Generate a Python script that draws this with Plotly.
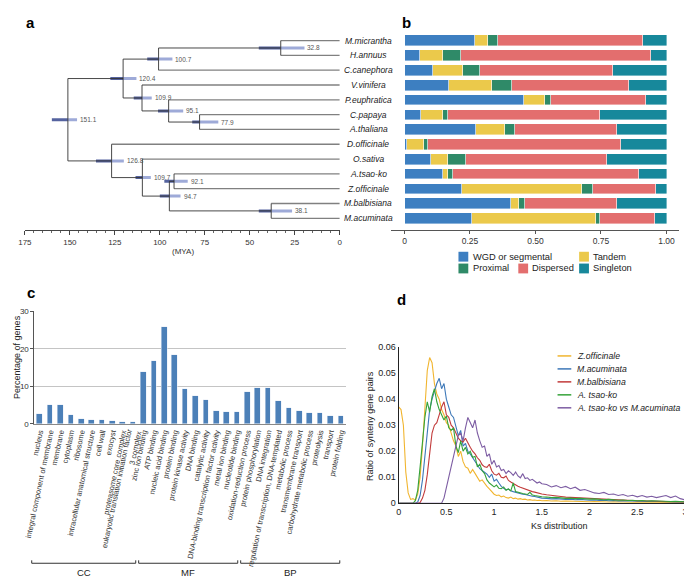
## Multi-panel figure: dated tree, duplication types, GO bars, Ks distribution

## Imports
import plotly.graph_objects as go


# the page body has an 8px margin, so the figure is drawn 8px smaller and
# reference pixel positions are shifted by that offset
OFF = 8
W, H = 692 - OFF, 583 - OFF
FONT = "Arial, Liberation Sans, sans-serif"


def px(x):
    return (x - OFF) / W


def py(y):
    return 1 - (y - OFF) / H


## Panel a: dated tree
tips = ["M.micrantha", "H.annuus", "C.canephora", "V.vinifera", "P.euphratica",
        "C.papaya", "A.thaliana", "D.officinale", "O.sativa", "A.tsao-ko",
        "Z.officinale", "M.balbisiana", "M.acuminata"]

tree = ("n151", [
    ("n120", [
        ("n100", [("n32", ["M.micrantha", "H.annuus"]), "C.canephora"]),
        ("n109a", ["V.vinifera",
                   ("n95", ["P.euphratica", ("n77", ["C.papaya", "A.thaliana"])])]),
    ]),
    ("n126", [
        "D.officinale",
        ("n109b", ["O.sativa",
                   ("n94", [("n92", ["A.tsao-ko", "Z.officinale"]),
                            ("n38", ["M.balbisiana", "M.acuminata"])])]),
    ]),
])

node_age = {"n151": 151.1, "n120": 120.4, "n100": 100.7, "n32": 32.8, "n109a": 109.9,
            "n95": 95.1, "n77": 77.9, "n126": 126.8, "n109b": 109.7, "n94": 94.7,
            "n92": 92.1, "n38": 38.1}
hpd_old = {"n151": 160.0, "n120": 127.5, "n100": 107.0, "n32": 45.0, "n109a": 114.5,
           "n95": 101.0, "n77": 82.0, "n126": 135.5, "n109b": 113.5, "n94": 100.0,
           "n92": 97.5, "n38": 45.0}
hpd_young = {"n151": 146.0, "n120": 113.0, "n100": 93.0, "n32": 19.6, "n109a": 104.5,
             "n95": 87.0, "n77": 67.5, "n126": 120.0, "n109b": 105.0, "n94": 88.5,
             "n92": 84.5, "n38": 26.5}

## Panel b: gene duplication types (fractions)
dup_types = ["WGD or segmental", "Tandem", "Proximal", "Dispersed", "Singleton"]
dup_colors = ["#3d7fc1", "#ebc94b", "#2f8a68", "#e36e6e", "#17889b"]
wgd = [0.27, 0.06, 0.108, 0.168, 0.455, 0.062, 0.273, 0.007, 0.102, 0.148, 0.218, 0.404, 0.256]
tandem = [0.046, 0.088, 0.114, 0.165, 0.079, 0.086, 0.11, 0.065, 0.063, 0.018, 0.457, 0.032, 0.475]
proximal = [0.041, 0.066, 0.067, 0.075, 0.023, 0.017, 0.038, 0.018, 0.068, 0.019, 0.042, 0.025, 0.015]
dispersed = [0.552, 0.727, 0.505, 0.447, 0.364, 0.582, 0.389, 0.735, 0.541, 0.71, 0.243, 0.349, 0.209]
singleton = [0.091, 0.059, 0.206, 0.145, 0.079, 0.253, 0.19, 0.175, 0.226, 0.105, 0.04, 0.19, 0.045]

## Panel c: GO terms
go_terms = ["nucleus", "integral component of membrane", "membrane", "cytoplasm", "ribosome",
            "intracellular anatomical structure", "cell wall", "exocyst",
            "proteasome core complex", "eukaryotic translation initiation factor<br>3 complex",
            "zinc ion binding", "ATP binding", "nucleic acid binding", "protein binding",
            "protein kinase activity", "DNA binding", "catalytic activity",
            "DNA-binding transcription factor activity", "metal ion binding",
            "nucleotide binding", "oxidation-reduction process", "protein phosphorylation",
            "DNA integration", "regulation of transcription, DNA-templated",
            "metabolic process", "transmembrane transport", "carbohydrate metabolic process",
            "proteolysis", "transport", "protein folding"]
go_pct = [2.56, 5.0, 4.9, 2.2, 1.2, 1.06, 0.97, 0.6, 0.44, 0.35,
          13.7, 16.7, 25.9, 18.4, 9.27, 7.3, 6.3, 3.35, 3.1, 3.0,
          8.3, 9.44, 9.36, 5.9, 4.06, 3.35, 2.8, 2.8, 2.1, 1.94]
go_groups = ["CC", "MF", "BP"]

## Panel d: Ks distributions
ks = [0, 0.025, 0.05, 0.075, 0.1, 0.125, 0.15, 0.175, 0.2, 0.225, 0.25, 0.275, 0.3, 0.325,
      0.35, 0.375, 0.4, 0.425, 0.45, 0.475, 0.5, 0.525, 0.55, 0.575, 0.6, 0.625, 0.65, 0.675,
      0.7, 0.725, 0.75, 0.775, 0.8, 0.825, 0.85, 0.875, 0.9, 0.925, 0.95, 0.975, 1.0, 1.025,
      1.05, 1.075, 1.1, 1.125, 1.15, 1.175, 1.2, 1.225, 1.25, 1.275, 1.3, 1.325, 1.35, 1.375,
      1.4, 1.425, 1.45, 1.475, 1.5, 1.55, 1.6, 1.65, 1.7, 1.75, 1.8, 1.85, 1.9, 1.95, 2.0,
      2.05, 2.1, 2.15, 2.2, 2.25, 2.3, 2.35, 2.4, 2.45, 2.5, 2.55, 2.6, 2.65, 2.7, 2.75, 2.8,
      2.85, 2.9, 2.95, 3.0]

ks_zof = [0.037, 0.036, 0.030, 0.012, 0.004, 0.0015, 0.0018, 0.0012, 0.0035, 0.010, 0.022,
          0.038, 0.051, 0.056, 0.054, 0.046, 0.042, 0.040, 0.036, 0.034, 0.031, 0.030, 0.027,
          0.024, 0.022, 0.018, 0.020, 0.016, 0.014, 0.0135, 0.0115, 0.013, 0.0115, 0.010,
          0.0085, 0.009, 0.0075, 0.0065, 0.0055, 0.0045, 0.0035, 0.003, 0.0032, 0.0025,
          0.0028, 0.0022, 0.002, 0.0024, 0.0018, 0.002, 0.0016, 0.0018, 0.0015, 0.0016,
          0.0013, 0.0014, 0.0012, 0.0013, 0.0011, 0.0012, 0.001,
          0.0011, 0.0009, 0.001, 0.0008, 0.0009, 0.0008, 0.0007, 0.0008, 0.0007, 0.0006,
          0.0007, 0.0006, 0.0007, 0.0005, 0.0006, 0.0005, 0.0006, 0.0005, 0.0004, 0.0005,
          0.0004, 0.0005, 0.0004, 0.0004, 0.0003, 0.0004, 0.0003, 0.0004, 0.0003, 0.0003]
ks_mac = [0, 0, 0, 0, 0, 0, 0, 0, 0.0005, 0.003, 0.009, 0.018, 0.029, 0.036, 0.040, 0.043,
          0.046, 0.048, 0.044, 0.046, 0.040, 0.037, 0.034, 0.033, 0.029, 0.026, 0.028, 0.022,
          0.023, 0.020, 0.019, 0.0175, 0.016, 0.0148, 0.0133, 0.0126, 0.012, 0.0112, 0.010,
          0.0112, 0.0085, 0.0092, 0.0078, 0.0065, 0.0058, 0.0052, 0.0055, 0.0048, 0.0045,
          0.0042, 0.0040, 0.0037, 0.0035, 0.0034, 0.0031, 0.003, 0.0027, 0.0026, 0.0024,
          0.0022, 0.002,
          0.0019, 0.0017, 0.0018, 0.0016, 0.0015, 0.0016, 0.0014, 0.0015, 0.0013, 0.0012,
          0.0013, 0.0011, 0.0012, 0.001, 0.0011, 0.0009, 0.001, 0.0009, 0.0008, 0.0009,
          0.0008, 0.0007, 0.0008, 0.0007, 0.0006, 0.0007, 0.0006, 0.0005, 0.0006, 0.0005]
ks_mba = [0, 0, 0, 0, 0, 0, 0, 0, 0, 0.0003, 0.002, 0.005, 0.011, 0.019, 0.027, 0.030, 0.031,
          0.034, 0.037, 0.039, 0.034, 0.033, 0.030, 0.029, 0.027, 0.025, 0.024, 0.0235,
          0.025, 0.023, 0.0215, 0.020, 0.019, 0.0175, 0.0165, 0.0148, 0.014, 0.0138, 0.015,
          0.0125, 0.0112, 0.0108, 0.0115, 0.010, 0.0098, 0.0105, 0.0088, 0.0082, 0.0076,
          0.007, 0.0066, 0.0062, 0.0058, 0.0055, 0.005, 0.0047, 0.0045, 0.0043, 0.004,
          0.0038, 0.0036,
          0.0033, 0.0030, 0.0028, 0.0026, 0.0024, 0.0023, 0.0022, 0.002, 0.0019, 0.0018,
          0.0017, 0.0016, 0.0015, 0.0014, 0.0013, 0.0013, 0.0012, 0.0011, 0.0011, 0.001,
          0.001, 0.0009, 0.0009, 0.0008, 0.0008, 0.0007, 0.0007, 0.0007, 0.0006, 0.0006]
ks_ats = [0, 0, 0, 0, 0, 0, 0, 0.001, 0.005, 0.014, 0.024, 0.033, 0.039, 0.035, 0.041, 0.044,
          0.039, 0.036, 0.034, 0.032, 0.0335, 0.029, 0.028, 0.029, 0.022, 0.0195, 0.024,
          0.020, 0.0215, 0.019, 0.020, 0.0177, 0.018, 0.014, 0.015, 0.0125, 0.0114, 0.009,
          0.0078, 0.007, 0.0063, 0.007, 0.0058, 0.0056, 0.0063, 0.005, 0.0055, 0.0048,
          0.0078, 0.0045, 0.0042, 0.004, 0.0038, 0.0036, 0.0034, 0.0042, 0.0032, 0.003,
          0.0028, 0.0026, 0.0025,
          0.0024, 0.0022, 0.0023, 0.0021, 0.0019, 0.002, 0.0018, 0.0019, 0.0017, 0.0016,
          0.0017, 0.0015, 0.0014, 0.0015, 0.0013, 0.0012, 0.0013, 0.0011, 0.0012, 0.001,
          0.0011, 0.0009, 0.001, 0.0009, 0.0008, 0.0009, 0.0007, 0.0008, 0.0007, 0.0006]
ks_ats_mac = [0, 0, 0, 0, 0, 0, 0, 0, 0, 0, 0, 0, 0, 0, 0, 0, 0, 0, 0, 0.002, 0.006, 0.0095,
              0.013, 0.018, 0.022, 0.026, 0.027, 0.024, 0.029, 0.033, 0.031, 0.029, 0.032,
              0.027, 0.024, 0.0215, 0.022, 0.018, 0.019, 0.015, 0.0165, 0.014, 0.0145,
              0.0126, 0.013, 0.0114, 0.0125, 0.0118, 0.0107, 0.012, 0.0105, 0.0098, 0.0114,
              0.0095, 0.0098, 0.0088, 0.0092, 0.0085, 0.0078, 0.0082, 0.0075,
              0.0072, 0.0063, 0.0068, 0.006, 0.0065, 0.0056, 0.0062, 0.005, 0.0053, 0.0046,
              0.0040, 0.0038, 0.0042, 0.0034, 0.0036, 0.0030, 0.0034, 0.0027, 0.0031, 0.0025,
              0.003, 0.0024, 0.0027, 0.0022, 0.0026, 0.003, 0.0022, 0.0028, 0.0018, 0.0013]

ks_series = [("Z.officinale", ks_zof, "#f1b52f"),
             ("M.acuminata", ks_mac, "#3d78b8"),
             ("M.balbisiana", ks_mba, "#c23b3b"),
             ("A. tsao-ko", ks_ats, "#35a33a"),
             ("A. tsao-ko vs M.acuminata", ks_ats_mac, "#7d5da3")]


#### Tree coordinates from topology and node ages
int_x, int_y, tip_x, tip_y = [], [], [], []
node_y = {}


def walk(node):
    if isinstance(node, str):
        return tips.index(node), 0.0
    name, kids = node
    age = node_age[name]
    ys = []
    for k in kids:
        yk, ak = walk(k)
        ys.append(yk)
        if isinstance(k, str):
            tip_x.extend([age, ak, None]); tip_y.extend([yk, yk, None])
        else:
            int_x.extend([age, ak, None]); int_y.extend([yk, yk, None])
    int_x.extend([age, age, None]); int_y.extend([ys[0], ys[-1], None])
    node_y[name] = (ys[0] + ys[-1]) / 2
    return node_y[name], age


walk(tree)

fig = go.Figure()

for n in node_age:
    fig.add_trace(go.Scatter(x=[hpd_old[n], node_age[n]], y=[node_y[n], node_y[n]],
                             mode="lines", line=dict(color="#55639f", width=3),
                             xaxis="x", yaxis="y", hoverinfo="skip"))
    fig.add_trace(go.Scatter(x=[node_age[n], hpd_young[n]], y=[node_y[n], node_y[n]],
                             mode="lines", line=dict(color="#9eaad8", width=3),
                             xaxis="x", yaxis="y", hoverinfo="skip"))

fig.add_trace(go.Scatter(x=tip_x, y=tip_y, mode="lines",
                         line=dict(color="#808080", width=1.3), xaxis="x", yaxis="y"))
fig.add_trace(go.Scatter(x=int_x, y=int_y, mode="lines",
                         line=dict(color="#333333", width=0.9), xaxis="x", yaxis="y"))

#### Panel b bars
for name, vals, col in zip(dup_types, [wgd, tandem, proximal, dispersed, singleton], dup_colors):
    fig.add_trace(go.Bar(x=vals, y=tips, orientation="h", name=name, width=0.72,
                         marker=dict(color=col, line=dict(color="white", width=0.4)),
                         xaxis="x2", yaxis="y2"))

#### Panel c bars
fig.add_trace(go.Bar(x=go_terms, y=go_pct, width=0.54, marker=dict(color="#4c80b8"),
                     xaxis="x3", yaxis="y3"))

#### Panel d lines
for name, vals, col in ks_series:
    fig.add_trace(go.Scatter(x=ks, y=vals, mode="lines", name=name,
                             line=dict(color=col, width=1.1), xaxis="x4", yaxis="y4"))


#### Annotations and shapes
ann = []
shapes = []


def label(text, x, y, size=9, xanchor="center", angle=0, color="#222"):
    # text placed at a reference pixel position
    ann.append(dict(text=text, x=px(x), y=py(y), xref="paper", yref="paper",
                    xanchor=xanchor, yanchor="middle", textangle=angle, borderpad=0,
                    showarrow=False, font=dict(size=size, color=color)))


for lab, x, y in [("a", 21, 18), ("b", 404, 18), ("c", 21, 292), ("d", 399, 300)]:
    label("<b>%s</b>" % lab, x, y, size=15, color="black")

for i, t in enumerate(tips):
    ann.append(dict(text="<i>%s</i>" % t, x=px(365), y=i, xref="paper", yref="y",
                    xanchor="center", yanchor="middle", showarrow=False,
                    font=dict(size=8.5, color="#222")))

for n in node_age:
    ann.append(dict(text="%.1f" % node_age[n], x=hpd_young[n], y=node_y[n], xref="x", yref="y",
                    xanchor="left", yanchor="middle", xshift=1, showarrow=False,
                    font=dict(size=6.5, color="#555")))

label("(MYA)", 176, 251, size=8, color="#333")

# legend of panel b
leg_b = [(0, 457, 256, 471), (1, 580, 256, 593), (2, 457, 268, 471),
         (3, 518, 268, 531), (4, 580, 268, 593)]
for i, sx, sy, tx in leg_b:
    shapes.append(dict(type="rect", xref="paper", yref="paper", x0=px(sx), x1=px(sx + 10),
                       y0=py(sy - 5), y1=py(sy + 5), fillcolor=dup_colors[i], line=dict(width=0)))
    label(dup_types[i], tx, sy, size=9.3, xanchor="left")

# group brackets of panel c
for g, x0, x1 in zip(go_groups, [22, 131, 235], [128, 232, 336]):
    shapes.append(dict(type="path", xref="paper", yref="paper",
                       path="M %f %f L %f %f L %f %f L %f %f" % (
                           px(x0), py(565), px(x0), py(568), px(x1), py(568), px(x1), py(565)),
                       line=dict(color="#333", width=1)))
    label(g, (x0 + x1) / 2, 577, size=9.5)

label("Percentage of genes", 7, 358, angle=-90)

# legend of panel d
for i, (name, vals, col) in enumerate(ks_series):
    yy = 357 + i * 13.2
    shapes.append(dict(type="line", xref="paper", yref="paper", x0=px(558), x1=px(572),
                       y0=py(yy), y1=py(yy), line=dict(color=col, width=1.5)))
    label("<i>%s</i>" % name, 577, yy, size=8.7, xanchor="left")

label("Ratio of synteny gene pairs", 366, 428, angle=-90)
label("Ks distribution", 560, 530)


#### Layout
layout = go.Layout(
    width=W, height=H, autosize=False,
    margin=dict(l=0, r=0, t=0, b=0),
    paper_bgcolor="white", plot_bgcolor="white",
    showlegend=False, barmode="stack", bargap=0,
    font=dict(family=FONT, size=9, color="#222"),
    xaxis=dict(domain=[px(15), px(336)], range=[175, 0], anchor="y",
               tickvals=[175, 150, 125, 100, 75, 50, 25, 0], ticks="outside", ticklen=4,
               tickcolor="#444", showline=True, linecolor="#444", linewidth=1,
               showgrid=False, zeroline=False, tickfont=dict(size=8, color="#333"),
               minor=dict(dtick=5, ticks="outside", ticklen=2, tickcolor="#666")),
    yaxis=dict(domain=[py(229), py(21)], range=[12.8, -1], anchor="x", visible=False),
    xaxis2=dict(domain=[px(388), px(682)], range=[-0.0524, 1.0487], anchor="y2",
                tickvals=[0, 0.25, 0.5, 0.75, 1.0], ticktext=["0", "0.25", "0.50", "0.75", "1.00"],
                ticks="outside", ticklen=3, tickcolor="#555", showline=True, linecolor="#555",
                showgrid=False, zeroline=False, tickfont=dict(size=8.5, color="#333")),
    yaxis2=dict(domain=[py(229), py(21)], range=[12.8, -1], anchor="x2", visible=False,
                type="category", categoryorder="array", categoryarray=tips),
    xaxis3=dict(domain=[px(24.7), px(342.3)], range=[-0.5, 29.5], anchor="y3",
                tickangle=-78, ticks="", showline=True, linecolor="#888",
                showgrid=False, tickfont=dict(size=7.5, color="#333")),
    yaxis3=dict(domain=[py(426), py(311.5)], range=[0, 30.05], anchor="x3",
                tickvals=[0, 10, 20, 30], ticks="outside", ticklen=3, tickcolor="#555",
                showline=True, linecolor="#555", showgrid=True, gridcolor="#c4c4c4",
                zeroline=False, tickfont=dict(size=8, color="#333")),
    xaxis4=dict(domain=[px(396), px(688)], range=[0, 3], anchor="y4",
                tickvals=[0, 0.5, 1, 1.5, 2, 2.5, 3], ticktext=["0", "0.5", "1", "1.5", "2", "2.5", "3"],
                showline=True, linecolor="#222", showgrid=False, zeroline=False,
                tickfont=dict(size=9, color="#222")),
    yaxis4=dict(domain=[py(507), py(348)], range=[0, 0.06], anchor="x4",
                tickvals=[0, 0.01, 0.02, 0.03, 0.04, 0.05, 0.06],
                ticktext=["0", "0.01", "0.02", "0.03", "0.04", "0.05", "0.06"],
                showline=True, linecolor="#222", showgrid=False, zeroline=False,
                tickfont=dict(size=9, color="#222")),
    annotations=ann,
    shapes=shapes,
)

fig.update_layout(layout)

fig.write_html("out.html")
